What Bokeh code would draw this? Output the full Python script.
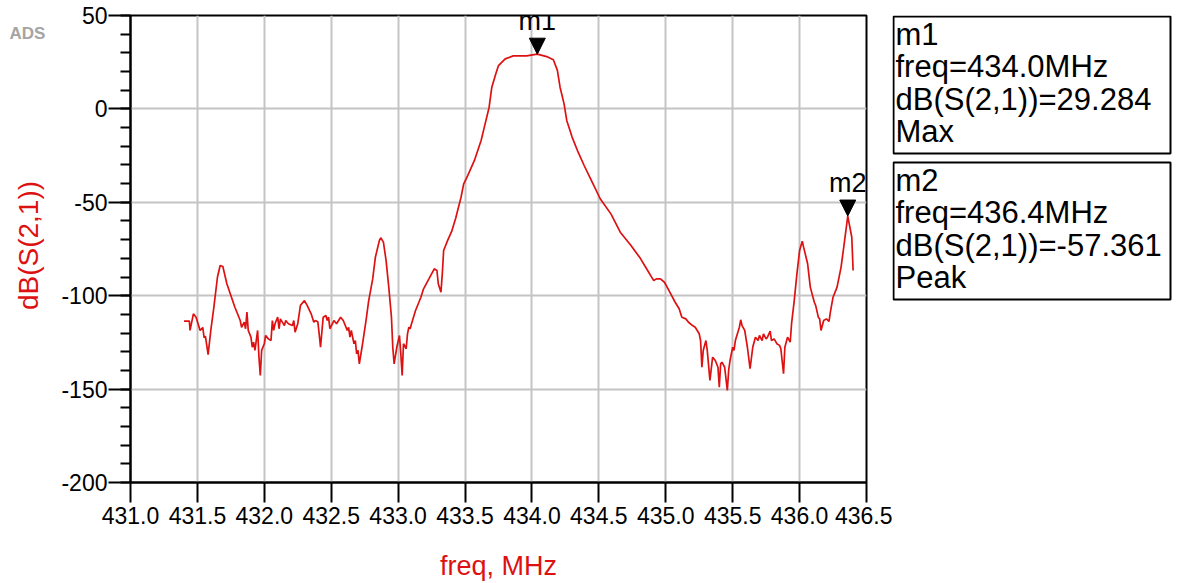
import math
from bokeh.plotting import figure
from bokeh.layouts import row
from bokeh.models import (Arrow, NormalHead, ColumnDataSource, FixedTicker, Range1d,
                          PrintfTickFormatter)
from bokeh.core.properties import value
from bokeh.embed import file_html
from bokeh.resources import INLINE

# ---------------- data ----------------
freq_mhz = [
    431.40, 431.44, 431.445, 431.47, 431.49, 431.52, 431.54, 431.55, 431.56, 431.58,
    431.60, 431.62, 431.65, 431.67, 431.69, 431.72, 431.75, 431.78, 431.82, 431.83,
    431.85, 431.86, 431.87, 431.88, 431.90, 431.91, 431.92, 431.93, 431.95, 431.96,
    431.97, 431.98, 432.00, 432.01, 432.03, 432.05, 432.06, 432.07, 432.08, 432.10,
    432.11, 432.12, 432.15, 432.16, 432.18, 432.21, 432.22, 432.23, 432.25, 432.27,
    432.30, 432.32, 432.35, 432.37, 432.38, 432.40, 432.41, 432.42, 432.44, 432.46,
    432.47, 432.48, 432.49, 432.52, 432.54, 432.57, 432.59, 432.62, 432.63, 432.64,
    432.65, 432.67, 432.68, 432.69, 432.70, 432.71, 432.73, 432.76, 432.78, 432.81,
    432.83, 432.86, 432.87, 432.89, 432.91, 432.93, 432.95, 432.96, 432.97, 432.99,
    433.01, 433.02, 433.03, 433.04, 433.06, 433.07, 433.08, 433.09, 433.10, 433.13,
    433.17, 433.19, 433.23, 433.27, 433.29, 433.30, 433.32, 433.33, 433.34, 433.37,
    433.40, 433.43, 433.47, 433.49, 433.52, 433.57, 433.62, 433.65, 433.68, 433.70,
    433.73, 433.75, 433.80, 433.86, 433.96, 434.04, 434.11, 434.16, 434.19, 434.21,
    434.24, 434.26, 434.30, 434.34, 434.39, 434.45, 434.51, 434.59, 434.66, 434.74,
    434.81, 434.86, 434.91, 434.93, 434.96, 434.99, 435.01, 435.05, 435.07, 435.10,
    435.12, 435.15, 435.17, 435.20, 435.22, 435.25, 435.26, 435.27, 435.28, 435.30,
    435.31, 435.33, 435.35, 435.36, 435.37, 435.39, 435.40, 435.41, 435.42, 435.44,
    435.46, 435.47, 435.48, 435.50, 435.51, 435.52, 435.55, 435.56, 435.57, 435.59,
    435.61, 435.63, 435.65, 435.67, 435.69, 435.70, 435.72, 435.73, 435.75, 435.76,
    435.78, 435.79, 435.81, 435.83, 435.85, 435.86, 435.88, 435.89, 435.91, 435.93,
    435.94, 435.96, 435.98, 436.00, 436.02, 436.03, 436.06, 436.08, 436.11, 436.12,
    436.14, 436.15, 436.16, 436.18, 436.20, 436.22, 436.23, 436.25, 436.28, 436.31,
    436.33, 436.36, 436.39, 436.40,
]
s21_db = [
    -113.6, -113.6, -118.6, -109.7, -111.5, -118.6, -117.0, -122.5, -121.8, -131.5,
    -118.6, -107.9, -90.0, -83.8, -84.4, -93.6, -99.9, -106.2, -113.3, -116.9,
    -114.2, -117.7, -108.8, -118.6, -122.2, -127.6, -124.9, -129.3, -118.6, -132.9,
    -142.7, -129.3, -125.7, -121.3, -123.1, -124.0, -113.3, -118.6, -115.0, -111.5,
    -117.7, -112.4, -116.0, -113.3, -115.0, -116.0, -113.3, -119.5, -115.0, -105.2,
    -102.6, -105.2, -109.7, -114.2, -113.3, -114.0, -120.4, -127.6, -111.5, -110.6,
    -113.3, -111.5, -117.7, -113.3, -115.0, -111.5, -113.3, -118.6, -116.9, -122.2,
    -118.6, -125.7, -124.0, -131.1, -129.3, -136.5, -127.6, -113.3, -102.6, -91.0,
    -79.4, -70.4, -69.0, -71.3, -81.2, -95.4, -111.5, -127.6, -136.5, -127.6,
    -121.3, -131.1, -142.7, -125.7, -128.4, -120.4, -116.9, -117.7, -115.0, -107.9,
    -100.8, -96.3, -91.0, -85.6, -86.5, -93.6, -98.1, -88.3, -75.8, -70.4,
    -65.6, -58.5, -47.3, -40.1, -35.7, -27.6, -16.9, -8.0, 0.9, 11.6,
    18.8, 23.2, 26.8, 28.4, 28.4, 29.284, 28.0, 26.3, 20.6, 11.6,
    2.7, -6.2, -15.1, -22.3, -30.3, -39.2, -48.1, -56.2, -66.0, -73.1,
    -80.0, -86.0, -91.9, -91.0, -91.0, -92.8, -95.4, -100.8, -103.5, -107.0,
    -111.5, -112.4, -114.2, -116.0, -116.9, -120.4, -124.0, -138.3, -129.3, -124.0,
    -129.3, -145.4, -132.9, -133.8, -134.7, -138.3, -149.0, -136.5, -135.6, -138.3,
    -150.7, -140.0, -134.7, -127.6, -129.3, -124.0, -116.9, -112.9, -116.0, -118.6,
    -127.6, -139.1, -127.6, -122.2, -124.0, -121.3, -124.0, -120.4, -123.1, -122.2,
    -119.0, -124.0, -123.1, -125.7, -126.6, -128.4, -141.8, -127.6, -122.2, -124.9,
    -115.0, -102.6, -88.3, -75.8, -70.8, -74.0, -82.9, -95.4, -103.5, -105.2,
    -111.5, -112.4, -118.6, -113.3, -112.4, -113.7, -108.8, -100.8, -95.4, -84.7,
    -74.0, -57.361, -68.7, -86.5,
]

x_ticks = [431.0, 431.5, 432.0, 432.5, 433.0, 433.5, 434.0, 434.5, 435.0, 435.5, 436.0, 436.5]
y_ticks = [-200, -150, -100, -50, 0, 50]
y_tick_labels = ["-200", "-150", "-100", "-50", "0", "50"]
y_minor_ticks = list(range(-200, 51, 10))

marker_names = ["m1", "m2"]
marker_freq = [434.04, 436.36]
marker_db = [29.284, -57.361]
marker_freq_text = ["434.0MHz", "436.4MHz"]
marker_db_text = ["29.284", "-57.361"]
marker_kind = ["Max", "Peak"]

x_label = "freq, MHz"
y_label = "dB(S(2,1))"
logo_text = "ADS"

# ---------------- geometry (pixels of the 1182x583 page) ----------------
PAGE_W, H = 1182, 583
LEFT_W = 56                   # strip holding the logo and the y label
FRAME_L, FRAME_R = 130, 866
FRAME_T, FRAME_B = 15, 482
RIGHT_X = 892                 # where the readout strip starts
MAIN_W = RIGHT_X - LEFT_W
RIGHT_W = PAGE_W - RIGHT_X
X0, X1 = 431.0, 436.5
Y0, Y1 = -200.0, 50.0
BASE_FIX = 0.33               # alphabetic-baseline correction (in em)

RED = "#dd1111"
FONT = "Liberation Sans"


def blank(width, x0, x1):
    # frame spans the same vertical pixels as the main frame; y data = page pixel row
    f = figure(width=width, height=H, x_range=Range1d(x0, x1),
               y_range=Range1d(FRAME_B, FRAME_T),
               x_axis_type=None, y_axis_type=None, output_backend="svg",
               toolbar_location=None, min_border_left=0, min_border_right=0,
               min_border_top=FRAME_T, min_border_bottom=H - FRAME_B)
    f.outline_line_color = None
    f.grid.visible = False
    f.background_fill_color = "white"
    f.border_fill_color = "white"
    return f


# ---------------- left strip ----------------
left = blank(LEFT_W, 0, LEFT_W)
LOGO_FS = 17
left.text(x=[9], y=[38.5 - BASE_FIX * LOGO_FS], text=[logo_text], text_font=value(FONT),
          text_font_size=f"{LOGO_FS}px", text_font_style="bold", text_color="#a4a4a4",
          text_baseline="alphabetic", text_align="left")
left.text(x=[28], y=[245], text=[y_label], angle=math.pi / 2,
          text_font=value(FONT), text_font_size="28px", text_color=RED,
          text_baseline="middle", text_align="center")

# ---------------- main plot ----------------
p = figure(width=MAIN_W, height=H, x_range=Range1d(X0, X1), y_range=Range1d(Y0, Y1),
           output_backend="svg", toolbar_location=None,
           min_border_left=FRAME_L - LEFT_W, min_border_right=RIGHT_X - FRAME_R,
           min_border_top=FRAME_T, min_border_bottom=H - FRAME_B)
p.background_fill_color = "white"
p.border_fill_color = "white"
p.outline_line_color = "black"
p.outline_line_width = 2

p.xaxis.ticker = FixedTicker(ticks=x_ticks, minor_ticks=[])
p.xaxis.formatter = PrintfTickFormatter(format="%.1f")
p.yaxis.ticker = FixedTicker(ticks=y_ticks, minor_ticks=y_minor_ticks)
p.yaxis.major_label_overrides = dict(zip(y_ticks, y_tick_labels))
for ax in (p.xaxis[0], p.yaxis[0]):
    ax.axis_line_color = "black"
    ax.axis_line_width = 2
    ax.major_tick_line_color = "black"
    ax.major_tick_line_width = 2
    ax.minor_tick_line_color = "black"
    ax.minor_tick_line_width = 2
    ax.major_tick_in = 0
    ax.minor_tick_in = 0
    ax.major_label_text_font = FONT
    ax.major_label_text_font_size = "23px"
    ax.major_label_text_color = "black"

p.xaxis.major_tick_out = 20
p.xaxis.minor_tick_out = 0
p.xaxis.major_label_standoff = 4
p.xaxis.axis_label = x_label
p.xaxis.axis_label_text_font = FONT
p.xaxis.axis_label_text_font_style = "normal"
p.xaxis.axis_label_text_color = RED
p.xaxis.axis_label_text_font_size = "27px"
p.xaxis.axis_label_standoff = 24

p.yaxis.major_tick_out = 22
p.yaxis.minor_tick_out = 10
p.yaxis.major_label_standoff = 1

p.xgrid.ticker = FixedTicker(ticks=x_ticks)
p.ygrid.ticker = FixedTicker(ticks=y_ticks)
for g in (p.xgrid[0], p.ygrid[0]):
    g.grid_line_color = "#c4c4c4"
    g.grid_line_width = 2

p.line(freq_mhz, s21_db, line_color=RED, line_width=1.7)

msrc = ColumnDataSource(dict(x=marker_freq, y=marker_db,
                             ys=[v + 20 for v in marker_db], name=marker_names))
p.add_layout(Arrow(end=NormalHead(size=16, fill_color="black", line_color="black", line_width=1),
                   x_start="x", y_start="ys", x_end="x", y_end="y",
                   source=msrc, line_alpha=0))
p.text(x="x", y="y", text="name", source=msrc, y_offset=-24 - BASE_FIX * 27,
       text_align="center", text_baseline="alphabetic", text_font=value(FONT),
       text_font_size="27px", text_color="black")

# ---------------- right strip: marker readouts ----------------
right = blank(RIGHT_W, RIGHT_X, PAGE_W)
box_left, box_right = 893, 1170
box_top0, box_h, box_step = 16, 137, 146
tops = [box_top0 + i * box_step for i in range(len(marker_names))]
right.quad(left=[box_left] * len(tops), right=[box_right] * len(tops), top=tops,
           bottom=[t + box_h for t in tops], fill_color=None, line_color="black",
           line_width=2)
READ_FS = 31
tx, ty, tt = [], [], []
for i, name in enumerate(marker_names):
    lines = [name, f"freq={marker_freq_text[i]}",
             f"dB(S(2,1))={marker_db_text[i]}", marker_kind[i]]
    for j, t in enumerate(lines):
        tx.append(895)
        ty.append(tops[i] + 28 + j * 32.5 - BASE_FIX * READ_FS)
        tt.append(t)
right.text(x=tx, y=ty, text=tt, text_align="left", text_baseline="alphabetic",
           text_font=value(FONT), text_font_size=f"{READ_FS}px", text_color="black")

layout = row(left, p, right, spacing=0)
open("out.html", "w").write(file_html(layout, INLINE))
